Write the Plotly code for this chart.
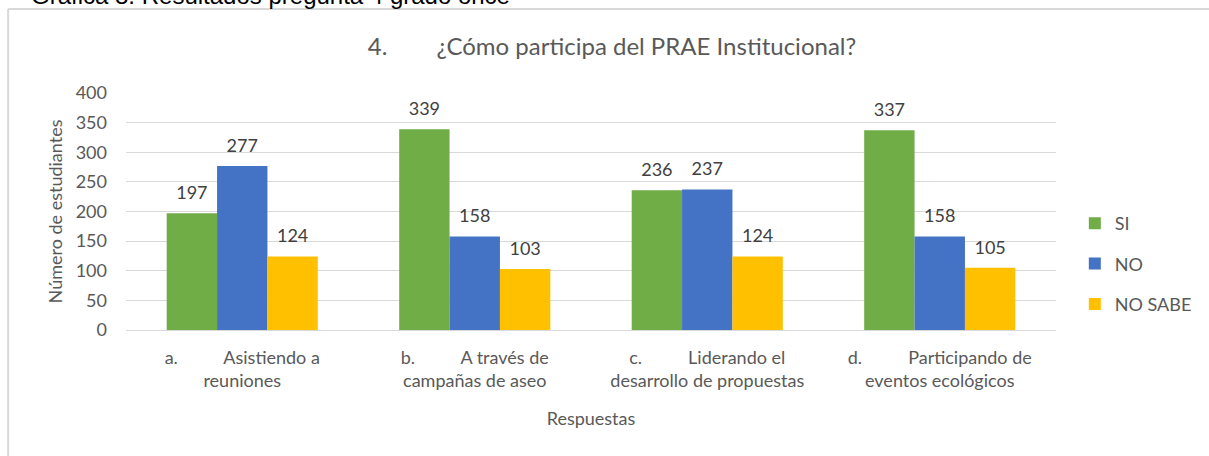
import plotly.graph_objects as go

NB = "\u00a0"
categories = [
    "a." + NB * 9 + " Asistiendo a<br>reuniones",
    "b." + NB * 9 + " A través de<br>campañas de aseo",
    "c." + NB * 9 + " Liderando el<br>desarrollo de propuestas",
    "d." + NB * 9 + " Participando de<br>eventos ecológicos",
]
si = [197, 339, 236, 337]
no = [277, 158, 237, 158]
no_sabe = [124, 103, 124, 105]
series_names = ["SI", "NO", "NO SABE"]
colors = ["#70AD47", "#4472C4", "#FFC000"]
title_text = "4." + NB * 7 + " ¿Cómo participa del PRAE Institucional?"
caption_text = "Gráfica 8. Resultados pregunta 4 grado once"

W, H = 1209, 456
L, R, T, B = 126, 1065, 93, 330
pw, ph = R - L, B - T


def px(x):
    return (x - L) / pw


def py(y):
    return (B - y) / ph


FONT = "Lato, Open Sans, sans-serif"
GAP = 0.35

fig = go.Figure()
for name, vals, col in zip(series_names, [si, no, no_sabe], colors):
    fig.add_trace(go.Bar(
        x=categories, y=vals, name=name, marker_color=col,
        marker_line_width=0, legendgroup=name,
    ))
for name, vals in zip(series_names, [si, no, no_sabe]):
    fig.add_trace(go.Scatter(
        x=categories, y=vals, mode="markers+text", text=vals,
        textposition="top center", showlegend=False, hoverinfo="skip",
        marker=dict(size=14, opacity=0), cliponaxis=False,
        textfont=dict(size=18, color="#404040", family=FONT),
        legendgroup=name,
    ))

fig.update_layout(
    width=W, height=H,
    margin=dict(l=L, r=W - R, t=T, b=H - B),
    paper_bgcolor="white", plot_bgcolor="white",
    barmode="group", bargap=GAP, bargroupgap=0,
    scattermode="group", scattergap=GAP,
    font=dict(family=FONT, color="#595959", size=18),
    title=dict(text=title_text,
               x=612 / W, xanchor="center", y=1 - 47 / H, yanchor="middle",
               font=dict(size=24, color="#595959", family=FONT)),
    legend=dict(x=px(1084), xanchor="left", y=py(264), yanchor="middle",
                font=dict(size=18, color="#595959", family=FONT),
                traceorder="grouped", tracegroupgap=14,
                itemwidth=30, bgcolor="rgba(0,0,0,0)"),
    showlegend=True,
)
fig.update_yaxes(range=[0, 400], dtick=50, showgrid=True, gridcolor="#d9d9d9",
                 gridwidth=1, zeroline=False, showline=False, ticks="",
                 ticklabelstandoff=18,
                 tickfont=dict(size=18, color="#595959"),
                 title=dict(text="Número de estudiantes", font=dict(size=18, color="#595959"), standoff=8))
fig.update_xaxes(showline=True, linecolor="#d9d9d9", linewidth=1, ticks="",
                 ticklabelstandoff=11,
                 tickfont=dict(size=18, color="#595959"),
                 title=dict(text="Respuestas", font=dict(size=18, color="#595959"), standoff=22))

# outer chart frame
fig.add_shape(type="line", xref="paper", yref="paper", x0=px(7), x1=px(1300), y0=py(9), y1=py(9),
              line=dict(color="#d9d9d9", width=2))
fig.add_shape(type="line", xref="paper", yref="paper", x0=px(7), x1=px(7), y0=py(9), y1=py(500),
              line=dict(color="#d9d9d9", width=2))

# document caption clipped at top
fig.add_annotation(text=caption_text, xref="paper", yref="paper",
                   x=px(28), y=py(11), xanchor="left", yanchor="bottom", showarrow=False,
                   font=dict(family="Liberation Sans, Arial", size=24, color="#000000"))

fig.write_html("out.html", config={"displayModeBar": False},
               post_script="document.body.style.margin='0';")
